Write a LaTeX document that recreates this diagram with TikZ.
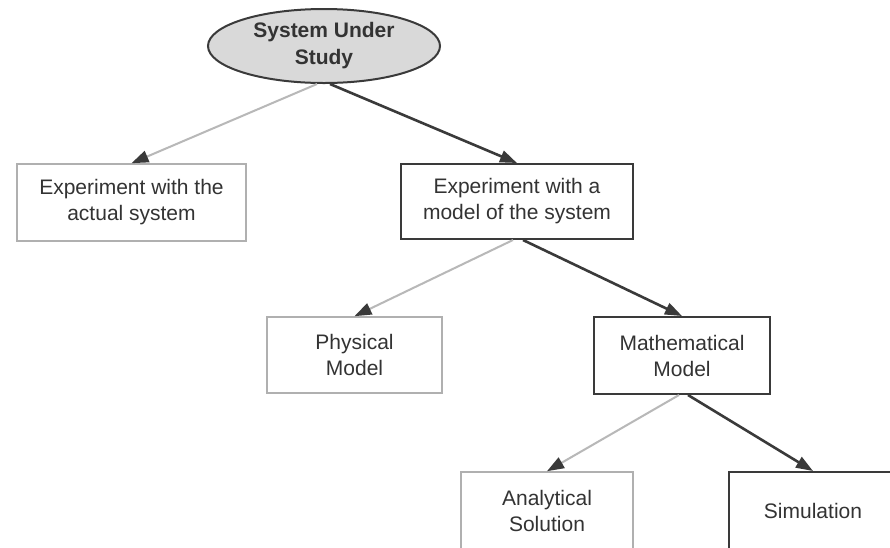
\documentclass[tikz,border=0pt]{standalone}
\usepackage{fontspec}
\setmainfont{Liberation Sans}
\usetikzlibrary{arrows.meta,shapes.geometric}
\definecolor{txt}{HTML}{333333}
\definecolor{darkline}{HTML}{3A3A3A}
\definecolor{lightline}{HTML}{B8B8B8}
\definecolor{lightborder}{HTML}{B0B0B0}
\definecolor{ellfill}{HTML}{D9D9D9}
\begin{document}
\begin{tikzpicture}[x=1pt,y=-1pt,
  every node/.style={text=txt,font=\fontsize{21}{26}\selectfont,align=center,inner sep=0pt},
  topnode/.style={ellipse,draw=darkline,line width=2pt,fill=ellfill,minimum width=232pt,minimum height=74pt,font=\bfseries\fontsize{21}{27}\selectfont},
  lightbox/.style={rectangle,draw=lightborder,line width=1.6pt,fill=white},
  darkbox/.style={rectangle,draw=darkline,line width=2pt,fill=white},
  lightarrow/.style={draw=lightline,line width=2pt,-{Triangle[length=17pt,width=12pt,color=darkline]}},
  darkarrow/.style={draw=darkline,line width=2.6pt,-{Triangle[length=17pt,width=12pt]}}
]
\useasboundingbox (0,0) rectangle (890,547);
\fill[white] (0,0) rectangle (890,547);

\node[topnode] (sys) at (324,46) {System Under\\Study};
\node[lightbox,minimum width=229pt,minimum height=77pt] (exa) at (131.5,202.5) {Experiment with the\\actual system};
\node[darkbox,minimum width=232pt,minimum height=75pt] (exm) at (517,201.5) {Experiment with a\\model of the system};
\node[lightbox,minimum width=175pt,minimum height=76pt] (phy) at (354.5,355) {Physical\\Model};
\node[darkbox,minimum width=176pt,minimum height=77pt] (mat) at (682,355.5) {Mathematical\\Model};
\node[lightbox,minimum width=172pt,minimum height=78pt] (ana) at (547,511) {Analytical\\Solution};
\node[darkbox,minimum width=168pt,minimum height=78pt] (sim) at (813,511) {Simulation};

\draw[lightarrow] ([xshift=-7pt]sys.south) -- (exa.north);
\draw[darkarrow] ([xshift=6pt]sys.south) -- (exm.north);
\draw[lightarrow] ([xshift=-4pt]exm.south) -- (phy.north);
\draw[darkarrow] ([xshift=6pt]exm.south) -- (mat.north);
\draw[lightarrow] ([xshift=-3pt]mat.south) -- (ana.north);
\draw[darkarrow] ([xshift=6pt]mat.south) -- (sim.north);
\end{tikzpicture}
\end{document}
